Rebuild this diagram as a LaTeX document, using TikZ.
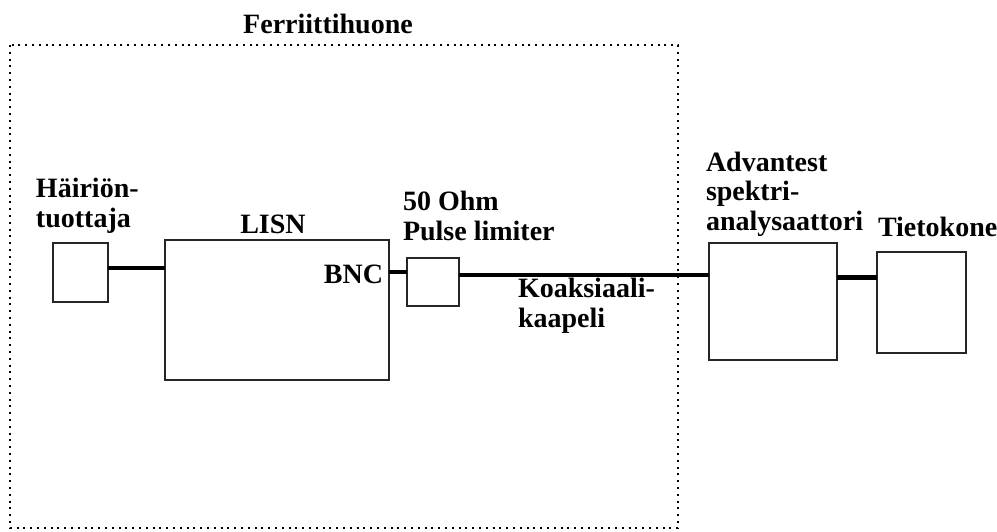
\documentclass[tikz,border=0pt]{standalone}
\usepackage{fontspec}
\setmainfont{Liberation Serif}
\begin{document}
\begin{tikzpicture}[x=0.75pt,y=-0.75pt,
  lbl/.style={font=\fontsize{21}{22}\selectfont\bfseries, inner sep=0pt, outer sep=0pt, align=left},
  devbox/.style={draw=black!85, line width=0.8pt, fill=white, inner sep=0pt, outer sep=0pt},
  wire/.style={line width=3.6pt, black},
  frame/.style={line width=1.8pt, dash pattern=on 1.5pt off 3.6pt, black}]
\useasboundingbox (0,0) rectangle (997,532);
% room frame
\draw[frame] (10,45) rectangle (678,528);
\node[lbl, anchor=base] (title) at (328,33) {Ferriittihuone};
% boxes
\node[devbox, minimum width=55*0.75pt, minimum height=59*0.75pt] (hair) at (80.5,272.5) {};
\node[devbox, minimum width=224*0.75pt, minimum height=140*0.75pt] (lisn) at (277,310) {};
\node[devbox, minimum width=52*0.75pt, minimum height=48*0.75pt] (pulse) at (433,282) {};
\node[devbox, minimum width=128*0.75pt, minimum height=117*0.75pt] (adv) at (773,301.5) {};
\node[devbox, minimum width=89*0.75pt, minimum height=101*0.75pt] (tk) at (921.5,302.5) {};
% labels
\node[lbl, anchor=base west] (hairl) at (36,227) {Häiriön-\\tuottaja};
\node[lbl, anchor=base] (lisnl) at (273,233) {LISN};
\node[lbl, anchor=base east] (bnc) at (383,283) {BNC};
\node[lbl, anchor=base west] (pulsel) at (403,240) {50 Ohm\\Pulse limiter};
\node[lbl, anchor=base west] (coax) at (518,327) {Koaksiaali-\\kaapeli};
\node[lbl, anchor=base west] (advl) at (706,230) {Advantest\\spektri-\\analysaattori};
\node[lbl, anchor=base west] (tkl) at (878,236) {Tietokone};
% wires
\draw[wire] ([yshift=3.4pt]hair.east) -- ([yshift=3.4pt]hair.east -| lisn.west);
\draw[wire] ([yshift=7.5pt]pulse.west -| lisn.east) -- ([yshift=7.5pt]pulse.west);
\draw[wire] ([yshift=5.25pt]pulse.east) -- ([yshift=5.25pt]pulse.east -| adv.west);
\draw[wire] ([yshift=19pt]tk.west -| adv.east) -- ([yshift=19pt]tk.west);
\end{tikzpicture}
\end{document}
